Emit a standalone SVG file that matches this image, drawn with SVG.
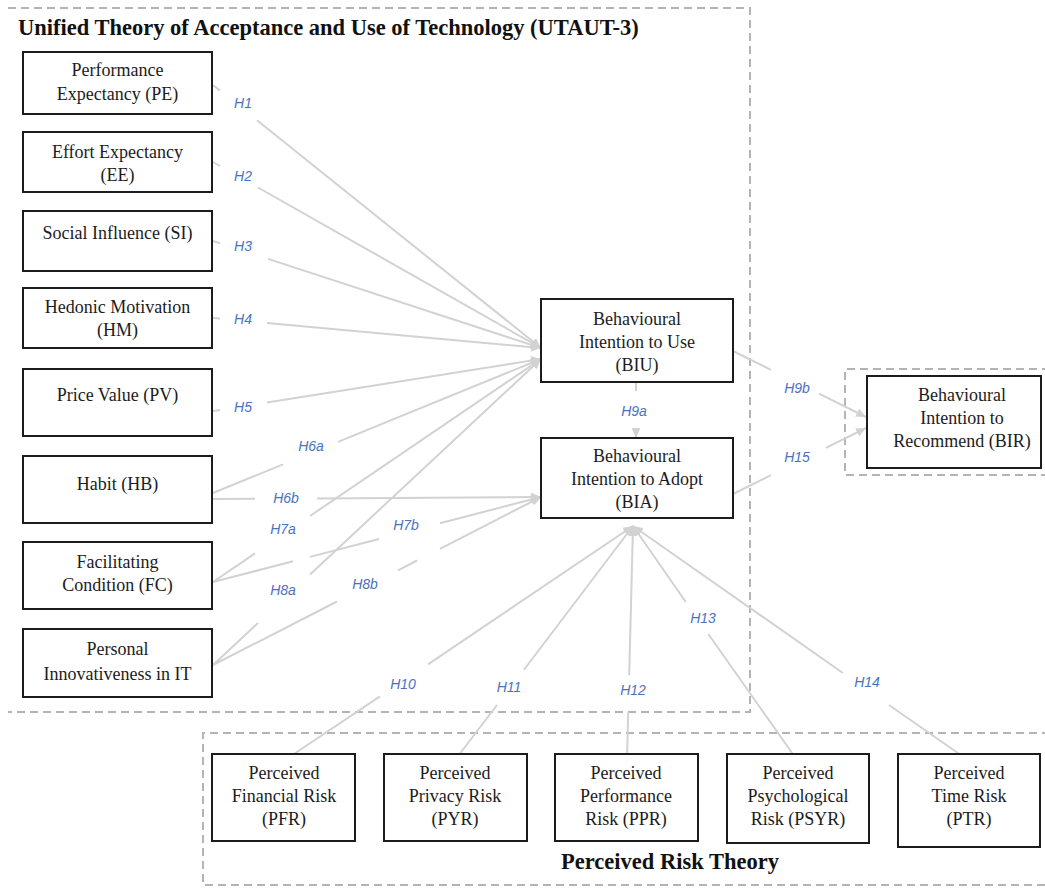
<svg xmlns="http://www.w3.org/2000/svg" width="1045" height="888" viewBox="0 0 1045 888">
  <style>
    .box { fill: #fff; stroke: #1c1c1c; stroke-width: 2; }
    .lbl { font-family: "Liberation Serif", serif; font-size: 18px; fill: #1c1c1c; text-anchor: middle; }
    .title { font-family: "Liberation Serif", serif; font-size: 22.5px; font-weight: bold; fill: #111; }
    .hyp { font-family: "Liberation Sans", sans-serif; font-style: italic; font-size: 14px; fill: #4a72bf; text-anchor: middle; }
    .conn { stroke: #d2d2d2; stroke-width: 2; fill: none; }
    .frame { stroke: #b4b4b4; stroke-width: 2; stroke-dasharray: 8 5; fill: none; }
  </style>
  <defs>
    <marker id="arrow" markerUnits="userSpaceOnUse" markerWidth="10" markerHeight="9" refX="10" refY="4.5" orient="auto">
      <path d="M0,0 L10,4.5 L0,9 z" fill="#d2d2d2"/>
    </marker>
  </defs>

  <rect width="1045" height="888" fill="#fff"/>

  <!-- theory frames -->
  <g id="frames">
    <path class="frame" d="M8,8 H750 V712 H8"/>
    <path class="frame" d="M1050,733 H203 V885 H1050"/>
    <path class="frame" d="M1050,369 H845 V475 H1050"/>
    <text class="title" x="18" y="35">Unified Theory of Acceptance and Use of Technology (UTAUT-3)</text>
    <text class="title" x="670" y="869" text-anchor="middle">Perceived Risk Theory</text>
  </g>

  <!-- hypothesised paths -->
  <g id="connectors">
    <path class="conn" d="M213,85 L220,90.6 M257,120.3 L541,348" marker-end="url(#arrow)"/>
    <path class="conn" d="M213,162 L220,166 M258,187.5 L541,348" marker-end="url(#arrow)"/>
    <path class="conn" d="M213,241 L220,243.3 M268,258.9 L541,348" marker-end="url(#arrow)"/>
    <path class="conn" d="M213,318 L220,318.6 M267,322.9 L541,348" marker-end="url(#arrow)"/>
    <path class="conn" d="M213,411 L220,409.9 M267,402.4 L541,359" marker-end="url(#arrow)"/>
    <path class="conn" d="M213,493 L283,464.4 M338,441.9 L541,359" marker-end="url(#arrow)"/>
    <path class="conn" d="M213,499 L255,498.7 M317,498.4 L541,497" marker-end="url(#arrow)"/>
    <path class="conn" d="M213,582 L255,553.4 M310,516 L541,359" marker-end="url(#arrow)"/>
    <path class="conn" d="M213,582 L293,561.3 M310,556.9 L379,539 M440,523.2 L541,497" marker-end="url(#arrow)"/>
    <path class="conn" d="M213,665 L258,623 M310,574.5 L541,359" marker-end="url(#arrow)"/>
    <path class="conn" d="M213,665 L337,601.5 M398,570.3 L417,560.5 M440,548.8 L541,497" marker-end="url(#arrow)"/>
    <path class="conn" d="M636,383 L636,391 M636,428 L636,438" marker-end="url(#arrow)"/>
    <path class="conn" d="M733,351 L771,369.9 M819,393.7 L866,417" marker-end="url(#arrow)"/>
    <path class="conn" d="M733,494 L771,475.1 M826,447.9 L866,428" marker-end="url(#arrow)"/>
    <path class="conn" d="M285,760 L380,696.4 M428,664.3 L633,526" marker-end="url(#arrow)"/>
    <path class="conn" d="M455,760 L497,705 M523.8,670 L633,526" marker-end="url(#arrow)"/>
    <path class="conn" d="M627,760 L628.2,712 M629.2,675 L633,526" marker-end="url(#arrow)"/>
    <path class="conn" d="M797,760 L708.3,634 M685.8,602 L633,526" marker-end="url(#arrow)"/>
    <path class="conn" d="M968,760 L888.9,705 M842.9,673 L633,526" marker-end="url(#arrow)"/>

    <text class="hyp" x="243" y="108">H1</text>
    <text class="hyp" x="243" y="181">H2</text>
    <text class="hyp" x="243" y="251">H3</text>
    <text class="hyp" x="243" y="324">H4</text>
    <text class="hyp" x="243" y="412">H5</text>
    <text class="hyp" x="311" y="451">H6a</text>
    <text class="hyp" x="286" y="503">H6b</text>
    <text class="hyp" x="283" y="534">H7a</text>
    <text class="hyp" x="406" y="530">H7b</text>
    <text class="hyp" x="283" y="595">H8a</text>
    <text class="hyp" x="365" y="589">H8b</text>
    <text class="hyp" x="634" y="416">H9a</text>
    <text class="hyp" x="797" y="393">H9b</text>
    <text class="hyp" x="797" y="462">H15</text>
    <text class="hyp" x="403" y="689">H10</text>
    <text class="hyp" x="509" y="692">H11</text>
    <text class="hyp" x="633" y="695">H12</text>
    <text class="hyp" x="703" y="623">H13</text>
    <text class="hyp" x="867" y="687">H14</text>
  </g>

  <!-- UTAUT-3 constructs -->
  <g id="PE"><rect class="box" x="23" y="52" width="189" height="62"/>
    <text class="lbl" x="117.5" y="76">Performance</text><text class="lbl" x="117.5" y="100">Expectancy (PE)</text></g>
  <g id="EE"><rect class="box" x="23" y="132" width="189" height="60"/>
    <text class="lbl" x="117.5" y="158">Effort Expectancy</text><text class="lbl" x="117.5" y="181">(EE)</text></g>
  <g id="SI"><rect class="box" x="23" y="211" width="189" height="60"/>
    <text class="lbl" x="117.5" y="239">Social Influence (SI)</text></g>
  <g id="HM"><rect class="box" x="23" y="288" width="189" height="60"/>
    <text class="lbl" x="117.5" y="313">Hedonic Motivation</text><text class="lbl" x="117.5" y="336">(HM)</text></g>
  <g id="PV"><rect class="box" x="23" y="369" width="189" height="67"/>
    <text class="lbl" x="117.5" y="401">Price Value (PV)</text></g>
  <g id="HB"><rect class="box" x="23" y="456" width="189" height="67"/>
    <text class="lbl" x="117.5" y="490">Habit (HB)</text></g>
  <g id="FC"><rect class="box" x="23" y="542" width="189" height="67"/>
    <text class="lbl" x="117.5" y="568">Facilitating</text><text class="lbl" x="117.5" y="591">Condition (FC)</text></g>
  <g id="PI"><rect class="box" x="23" y="629" width="189" height="68"/>
    <text class="lbl" x="117.5" y="655">Personal</text><text class="lbl" x="117.5" y="680">Innovativeness in IT</text></g>

  <!-- outcome constructs -->
  <g id="BIU"><rect class="box" x="541" y="299" width="192" height="83"/>
    <text class="lbl" x="637" y="325">Behavioural</text><text class="lbl" x="637" y="348">Intention to Use</text><text class="lbl" x="637" y="371">(BIU)</text></g>
  <g id="BIA"><rect class="box" x="541" y="438" width="192" height="80"/>
    <text class="lbl" x="637" y="462">Behavioural</text><text class="lbl" x="637" y="485">Intention to Adopt</text><text class="lbl" x="637" y="508">(BIA)</text></g>
  <g id="BIR"><rect class="box" x="867" y="376" width="174" height="92"/>
    <text class="lbl" x="962" y="401">Behavioural</text><text class="lbl" x="962" y="424">Intention to</text><text class="lbl" x="962" y="447">Recommend (BIR)</text></g>

  <!-- perceived risk constructs -->
  <g id="PFR"><rect class="box" x="212" y="754" width="143" height="87"/>
    <text class="lbl" x="284" y="779">Perceived</text><text class="lbl" x="284" y="802">Financial Risk</text><text class="lbl" x="284" y="825">(PFR)</text></g>
  <g id="PYR"><rect class="box" x="384" y="754" width="143" height="87"/>
    <text class="lbl" x="455" y="779">Perceived</text><text class="lbl" x="455" y="802">Privacy Risk</text><text class="lbl" x="455" y="825">(PYR)</text></g>
  <g id="PPR"><rect class="box" x="555" y="754" width="143" height="87"/>
    <text class="lbl" x="626" y="779">Perceived</text><text class="lbl" x="626" y="802">Performance</text><text class="lbl" x="626" y="825">Risk (PPR)</text></g>
  <g id="PSYR"><rect class="box" x="727" y="754" width="142" height="89"/>
    <text class="lbl" x="798" y="779">Perceived</text><text class="lbl" x="798" y="802">Psychological</text><text class="lbl" x="798" y="825">Risk (PSYR)</text></g>
  <g id="PTR"><rect class="box" x="898" y="754" width="142" height="93"/>
    <text class="lbl" x="969" y="779">Perceived</text><text class="lbl" x="969" y="802">Time Risk</text><text class="lbl" x="969" y="825">(PTR)</text></g>
</svg>
